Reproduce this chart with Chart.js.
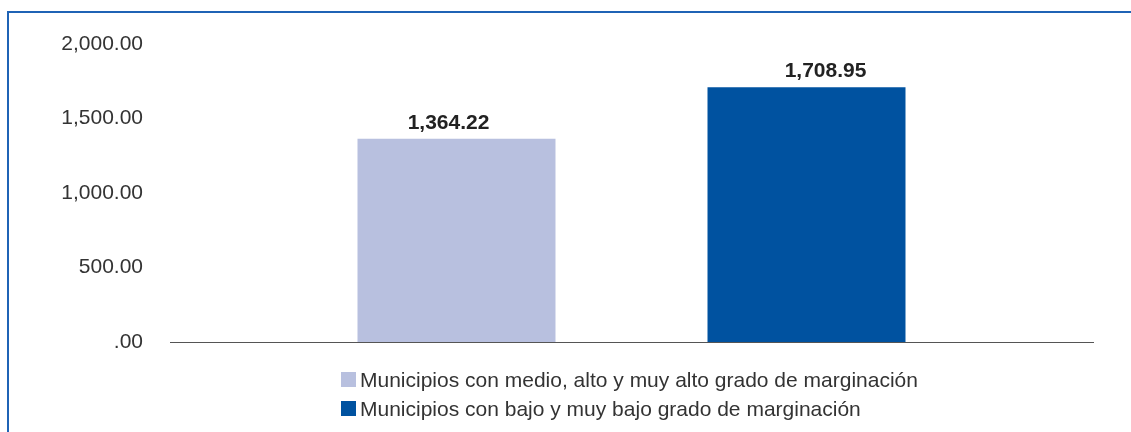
<!DOCTYPE html>
<html>
<head>
<meta charset="utf-8">
<script src="https://cdn.jsdelivr.net/npm/chart.js@4/dist/chart.umd.min.js"></script>
<style>
  html, body { margin: 0; padding: 0; background: #fff; }
  #wrap { position: relative; width: 1131px; height: 432px; overflow: hidden; }
  #frame { position: absolute; left: 7px; top: 11px; right: -5px; bottom: -5px;
           border-left: 2px solid #1f63b5; border-top: 2px solid #1f63b5; }
  canvas { position: absolute; left: 0; top: 0; }
  #legend { position: absolute; left: 341px; top: 365px; font-family: "Liberation Sans", Arial, sans-serif;
            font-size: 21px; color: #333; }
  .li { display: flex; align-items: center; height: 29px; white-space: nowrap; }
  .sw { width: 15px; height: 15px; margin-right: 4px; flex: none; }
</style>
</head>
<body>
<div id="wrap">
  <div id="frame"></div>
  <canvas id="c" width="1131" height="432"></canvas>
  <div id="legend"></div>
</div>
<script>
const categories = [""];
const seriesNames = [
  "Municipios con medio, alto y muy alto grado de marginación",
  "Municipios con bajo y muy bajo grado de marginación"
];
const seriesValues = [[1364.22], [1708.95]];
const seriesColors = ["#b8c0df", "#0052a0"];
const yTicks = [0, 500, 1000, 1500, 2000];

const fmt = v => {
  const s = v.toLocaleString("en-US", { minimumFractionDigits: 2, maximumFractionDigits: 2 });
  return s.startsWith("0.") ? s.slice(1) : s;
};

const valueLabels = {
  id: "valueLabels",
  afterDatasetsDraw(chart, args, opts) {
    const ctx = chart.ctx;
    const dx = opts.dx || [];
    ctx.save();
    ctx.font = "bold 21px 'Liberation Sans', Arial, sans-serif";
    ctx.fillStyle = "#222";
    ctx.textAlign = "center";
    ctx.textBaseline = "alphabetic";
    chart.data.datasets.forEach((ds, i) => {
      chart.getDatasetMeta(i).data.forEach((bar, j) => {
        ctx.fillText(fmt(ds.data[j]), bar.x + (dx[i] || 0), bar.y - 10);
      });
    });
    ctx.restore();
  }
};

new Chart(document.getElementById("c"), {
  type: "bar",
  data: {
    labels: categories,
    datasets: seriesNames.map((n, i) => ({
      label: n,
      data: seriesValues[i],
      backgroundColor: seriesColors[i],
      categoryPercentage: 0.7584,
      barPercentage: 0.5657
    }))
  },
  options: {
    responsive: false,
    animation: false,
    layout: { padding: { top: 44, left: 0, right: 38, bottom: 0 } },
    plugins: { legend: { display: false }, tooltip: { enabled: false }, valueLabels: { dx: [-8, 19] } },
    scales: {
      x: {
        grid: { display: false },
        border: { display: true, color: "#555", width: 1 },
        ticks: { display: false },
        afterFit: s => { s.height = 90; }
      },
      y: {
        min: 0, max: 2000,
        afterBuildTicks: s => { s.ticks = yTicks.map(v => ({ value: v })); },
        grid: { display: false, drawTicks: false },
        border: { display: false },
        ticks: {
          padding: 27,
          color: "#333",
          font: { family: "'Liberation Sans', Arial, sans-serif", size: 21 },
          callback: v => fmt(v)
        },
        afterFit: s => { s.width = 170; }
      }
    }
  },
  plugins: [valueLabels]
});

const legend = document.getElementById("legend");
seriesNames.forEach((n, i) => {
  const row = document.createElement("div");
  row.className = "li";
  const sw = document.createElement("span");
  sw.className = "sw";
  sw.style.background = seriesColors[i];
  const t = document.createElement("span");
  t.textContent = n;
  row.appendChild(sw);
  row.appendChild(t);
  legend.appendChild(row);
});
</script>
</body>
</html>
